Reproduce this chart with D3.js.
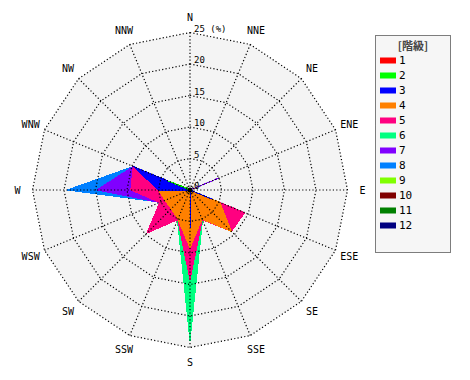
<!DOCTYPE html>
<html><head><meta charset="utf-8">
<script src="https://cdn.jsdelivr.net/npm/d3@7"></script>
<style>body{margin:0;background:#fff}svg{display:block}</style>
</head><body>
<svg id="chart" width="470" height="380"></svg>
<script>
// Data (values in %), order follows `directions`
const directions = ["N","NNE","NE","ENE","E","ESE","SE","SSE","S","SSW","SW","WSW","W","WNW","NW","NNW"];
const classLabels = ["1","2","3","4","5","6","7","8","9","10","11","12"];
const classColors = ["#ff0000","#00ff00","#0000ff","#ff8000","#ff0080","#00ff80","#8000ff","#0080ff","#80ff00","#800000","#008000","#000080"];
const ringTicks = [0,5,10,15,20,25];
const class1  = [0,0,0,0,0,0,0,0,0,0,0,0,0,0,0,0];
const class2  = [0,0,0,0,0,0,0,0,0,0,0,0,0,3.8,0.3,0];
const class3  = [0,0,0,0,0,4.0,0,0,6.0,0,0,0,5.0,9.75,0,0];
const class4  = [0,0,0,0,0,5.1,9.3,5.0,9.2,5.0,4.2,4.3,5.0,0,0,0];
const class5  = [0,0,0,0,0,9.4,9.3,5.1,14.3,5.1,9.7,5.2,9.4,9.75,0,0];
const class6  = [0,0,0,0,0,0,0,5.2,24.0,5.2,0,0,0,0,0,0];
const class7  = [0,0,0,4.9,0,0,0,0,0,0,0,5.2,14.8,9.75,0,0];
const class8  = [0,0,0,0,0,0,0,0,0,0,0,5.1,19.5,9.75,0,0];
const class9  = [0,0,0,0,0,0,0,0,0,0,0,0,0,0,0,0];
const class10 = [0,0,0,0,0,0,0,0,0,0,0,0,0,0,0,0];
const class11 = [0,0,0,0,0,0,0,0,0,0,0,0,0,0,0,0];
const class12 = [0,0,0,0,0,0,0,0,0,0,0,0,0,0,0,0];
const classValues = [class1,class2,class3,class4,class5,class6,class7,class8,class9,class10,class11,class12];

const svg = d3.select("#chart");
const cx = 190, cy = 190;
const r = d3.scaleLinear().domain([0,25]).range([0,157.5]);
const ang = d3.scaleLinear().domain([0,16]).range([0,2*Math.PI]);
const mono = "'DejaVu Sans Mono', monospace";
const g = svg.append("g").attr("transform",`translate(${cx},${cy})`);

const ringLine = d3.lineRadial().curve(d3.curveLinearClosed);
const maxR = ringTicks[ringTicks.length-1];

// background polygon
g.append("path")
  .attr("d", ringLine(directions.map((d,i)=>[ang(i), r(maxR)])))
  .attr("fill","#f4f4f4");

// series polygons: class 12 drawn first, class 1 last
const area = d3.lineRadial().angle((d,i)=>ang(i)).radius(d=>r(d)).curve(d3.curveLinearClosed);
for (let k = classValues.length-1; k >= 0; k--) {
  const vals = classValues[k];
  if (d3.max(vals) <= 0) continue;
  g.append("path").attr("d", area(vals))
    .attr("fill", classColors[k]).attr("stroke", classColors[k]).attr("stroke-width",1)
    .attr("shape-rendering","crispEdges");
}

// grid rings
ringTicks.filter(t=>t>0).forEach(t=>{
  g.append("path").attr("d", ringLine(directions.map((d,i)=>[ang(i), r(t)])))
    .attr("fill","none").attr("stroke","#000").attr("stroke-width",1.2)
    .attr("stroke-dasharray","1.2,2.2");
});
// spokes
directions.forEach((d,i)=>{
  const a = ang(i);
  g.append("line").attr("x1",0).attr("y1",0)
    .attr("x2", r(maxR)*Math.sin(a)).attr("y2", -r(maxR)*Math.cos(a))
    .attr("stroke","#000").attr("stroke-width",1.2).attr("stroke-dasharray","1.2,2.2");
});
// center dot
g.append("circle").attr("r",2.6).attr("fill","#000");

// ring labels
ringTicks.forEach(t=>{
  g.append("text").attr("x",4).attr("y",-r(t)-1)
    .attr("font-family",mono).attr("font-size",9).attr("fill","#000")
    .text(t===maxR ? t+" (%)" : t);
});

// direction labels
directions.forEach((d,i)=>{
  const a = ang(i), rr = r(maxR)+15;
  g.append("text").attr("x", rr*Math.sin(a)).attr("y", -rr*Math.cos(a))
    .attr("text-anchor","middle").attr("dominant-baseline","central")
    .attr("font-family",mono).attr("font-size",10).attr("fill","#000").text(d);
});

// legend
const lg = svg.append("g");
lg.append("rect").attr("x",375.5).attr("y",35.5).attr("width",75).attr("height",217)
  .attr("fill","#f6f6f6").attr("stroke","#000").attr("stroke-dasharray","1,1");
lg.append("text").attr("x",413).attr("y",45).attr("text-anchor","middle").attr("dominant-baseline","central")
  .attr("font-family","'Noto Sans CJK JP', sans-serif").attr("font-size",11).attr("font-weight","bold")
  .attr("fill","#444").text("[階級]");
const ly = d3.scaleLinear().domain([0,11]).range([60.5,225.5]);
classLabels.forEach((c,i)=>{
  lg.append("rect").attr("x",380).attr("y",ly(i)-3).attr("width",16).attr("height",6).attr("fill",classColors[i]);
  lg.append("text").attr("x",399).attr("y",ly(i)).attr("dominant-baseline","central")
    .attr("font-family",mono).attr("font-size",11).attr("fill","#000").text(c);
});
</script>
</body></html>
